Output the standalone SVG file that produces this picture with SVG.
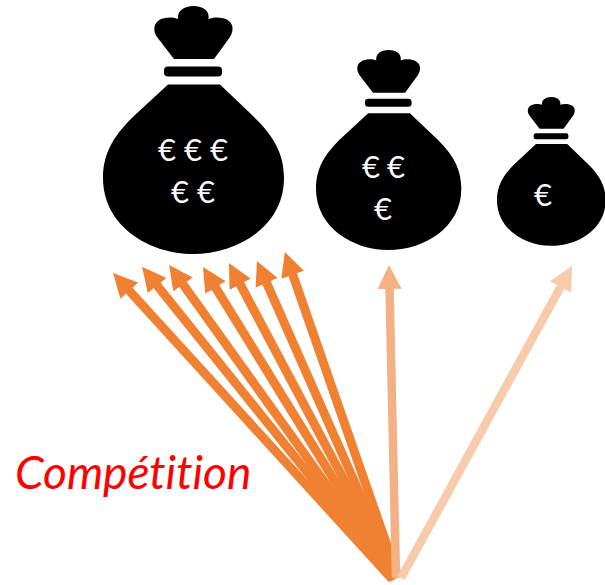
<svg xmlns="http://www.w3.org/2000/svg" width="605" height="585" viewBox="0 0 605 585">
<style>
.e{font:31px Lato,"Open Sans",sans-serif;fill:#fff;text-anchor:middle}
.a{fill:none}
.d{stroke:#F08133;stroke-width:9}
.m{stroke:#F4B183;stroke-width:8.500}
.l{stroke:#F8CBAD;stroke-width:8.500}
</style>
<defs>
<marker id="hd" markerUnits="userSpaceOnUse" markerWidth="26" markerHeight="26" refX="1" refY="13" orient="auto"><path d="M0 1L24 13L0 25Z" fill="#F08133"/></marker>
<marker id="hm" markerUnits="userSpaceOnUse" markerWidth="26" markerHeight="26" refX="1" refY="13" orient="auto"><path d="M0 1L24 13L0 25Z" fill="#F4B183"/></marker>
<marker id="hl" markerUnits="userSpaceOnUse" markerWidth="26" markerHeight="26" refX="1" refY="13" orient="auto"><path d="M0 1L24 13L0 25Z" fill="#F8CBAD"/></marker>
<g id="bag">
<path d="M174 59L157 37C152 29 154 20 165 18C170 17 175 17.500 178 19C177 11 184 6 193.500 6C203 6 210 11 208.500 19C212 17.500 217 17 222 18C233 20 235 29 230 37L214 59Z"/>
<rect x="164" y="66.500" width="58" height="10" rx="4"/>
<path d="M168 84.500L220 84.500L252 115C272 134 284 152 284 178C284 226 238 254 193 254C149 254 103 226 103 178C103 152 115 134 135 115Z"/>
</g>
</defs>
<g id="bag-large"><use href="#bag"/>
<text class="e" x="167" y="161">€</text><text class="e" x="193" y="161">€</text><text class="e" x="219" y="161">€</text>
<text class="e" x="180" y="203">€</text><text class="e" x="206" y="203">€</text></g>
<g id="bag-medium"><use href="#bag" transform="translate(316 50) scale(.803 .806) translate(-103 -6)"/>
<text class="e" x="371" y="178">€</text><text class="e" x="396" y="178">€</text>
<text class="e" x="383" y="220">€</text></g>
<g id="bag-small"><use href="#bag" transform="translate(497 97) scale(.6) translate(-103 -6)"/>
<text class="e" x="543" y="206">€</text></g>
<g id="connectors">
<path class="a d" marker-end="url(#hd)" d="M392 579L128.600 290"/>
<path class="a d" marker-end="url(#hd)" d="M393 579L156.500 284.800"/>
<path class="a d" marker-end="url(#hd)" d="M394 579L182.500 283.700"/>
<path class="a d" marker-end="url(#hd)" d="M395 579L215 286.600"/>
<path class="a d" marker-end="url(#hd)" d="M396 578L239.700 283.400"/>
<path class="a d" marker-end="url(#hd)" d="M397 578L266.200 282"/>
<path class="a d" marker-end="url(#hd)" d="M398 577L292.400 273.800"/>
<path class="a m" marker-end="url(#hm)" d="M396 578L389.500 288"/>
<path class="a l" marker-end="url(#hl)" d="M401 578L561 286.200"/>
</g>
<text id="label" x="15" y="489" style="font:italic 46px Lato,sans-serif;font-variant-ligatures:none;fill:#f00">Compétition</text>
</svg>
